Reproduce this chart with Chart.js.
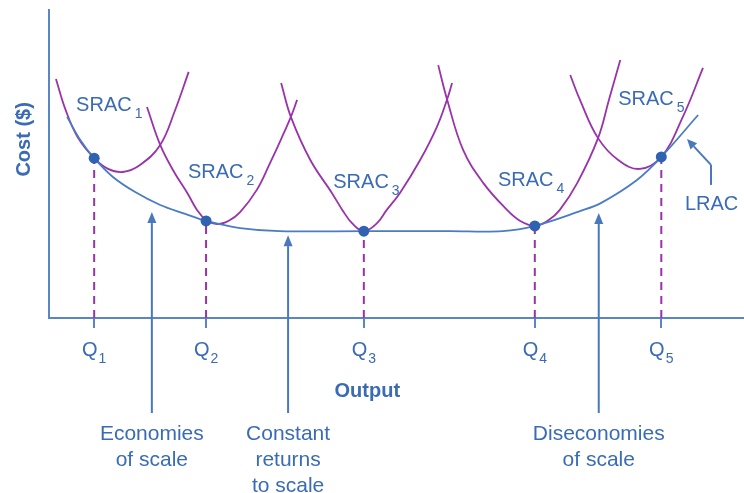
<!DOCTYPE html>
<html><head><meta charset="utf-8">
<script src="https://cdn.jsdelivr.net/npm/chart.js@4.4.1/dist/chart.umd.min.js"></script>
<style>html,body{margin:0;padding:0;background:#fff;}</style>
</head><body>
<canvas id="c" width="744" height="493"></canvas>
<script>
// ---- data (output on x, cost on y; arbitrary units 0-100) ----
const qNames  = ['1', '2', '3', '4', '5'];
const qOutput = [6.5, 22.6, 45.3, 69.9, 88.1];
const qCost   = [51.9, 31.5, 28.2, 29.9, 52.3];

const lracOutput = [2.6, 4.5, 6.5, 9.2, 12.4, 16.0, 19.6, 22.6, 27.5, 33.2, 45.3, 57.7, 65.3, 69.9, 76.4, 79.4, 84.6, 88.1, 93.4];
const lracCost   = [65.3, 57.8, 51.9, 45.8, 40.9, 36.7, 33.8, 31.5, 29.2, 28.2, 28.2, 28.2, 28.2, 29.9, 34.7, 37.3, 44.8, 52.3, 65.9];

const srac1Output = [1.0, 2.4, 4.2, 6.5, 8.5, 10.6, 13.1, 16.0, 18.1, 20.1];
const srac1Cost   = [77.6, 67.5, 58.4, 51.9, 48.4, 47.4, 49.7, 56.2, 67.2, 79.9];
const srac2Output = [14.1, 16.0, 18.0, 19.9, 21.3, 22.6, 24.2, 25.8, 27.5, 29.9, 31.8, 33.4, 34.8, 35.7];
const srac2Cost   = [68.5, 56.2, 47.4, 40.6, 35.1, 31.8, 30.5, 31.5, 34.4, 41.6, 50.3, 58.1, 65.3, 70.8];
const srac3Output = [33.4, 34.8, 37.6, 40.7, 42.2, 43.6, 45.3, 47.2, 48.6, 50.5, 53.4, 55.8, 57.3, 58.0];
const srac3Cost   = [76.3, 65.3, 51.3, 40.6, 35.1, 30.8, 28.2, 30.8, 35.1, 40.6, 51.3, 62.0, 71.1, 76.3];
const srac4Output = [56.0, 57.3, 59.6, 62.5, 65.9, 67.8, 69.9, 71.9, 73.5, 76.0, 79.0, 80.6, 82.2];
const srac4Cost   = [82.1, 70.8, 54.5, 43.8, 35.1, 31.5, 29.9, 31.8, 35.1, 43.8, 58.4, 71.1, 83.8];
const srac5Output = [75.0, 76.4, 79.0, 81.9, 85.0, 88.1, 91.2, 94.1];
const srac5Cost   = [78.9, 70.8, 58.4, 51.3, 48.4, 52.3, 65.3, 81.2];

const noteOutput  = [14.8, 34.4, 79.1];
const noteTipCost = [34.4, 26.9, 34.1];
const noteLines   = [['Economies', 'of scale'], ['Constant', 'returns', 'to scale'], ['Diseconomies', 'of scale']];

// ---- styles / label placement ----
const PURPLE = '#9a32ab';
const LRAC_BLUE = '#4a7cc4';
const AXIS_BLUE = '#5b86c6';
const TEXT_BLUE = '#3a6bb5';
const ARROW_BLUE = '#4a78bf';
const DOT_BLUE = '#2f62b0';
const FAMILY = '"Liberation Sans", Arial, Helvetica, sans-serif';
const font = (size, bold) => (bold ? 'bold ' : '') + size + 'px ' + FAMILY;

const curveLabels = [
  { text: 'SRAC', sub: '1', x: 3.9,  y: 67.2 },
  { text: 'SRAC', sub: '2', x: 20.0, y: 45.5 },
  { text: 'SRAC', sub: '3', x: 40.9, y: 42.2 },
  { text: 'SRAC', sub: '4', x: 64.6, y: 42.9 },
  { text: 'SRAC', sub: '5', x: 81.9, y: 69.2 },
  { text: 'LRAC', sub: '',  x: 91.5, y: 35.1 }
];
const lracPointer = [[95.25, 43.2], [95.25, 49.7], [91.8, 58.1]];

const zip = (xs, ys) => xs.map((v, i) => ({ x: v, y: ys[i] }));
const curve = (xs, ys, color, tension) => ({
  data: zip(xs, ys), showLine: true, borderColor: color, borderWidth: 1.8,
  pointRadius: 0, fill: false, tension: tension
});

const datasets = [
  { data: zip(qOutput, qCost), showLine: false, pointRadius: 5.5, pointBackgroundColor: DOT_BLUE, pointBorderWidth: 0 },
  curve(lracOutput, lracCost, LRAC_BLUE, 0.35),
  curve(srac1Output, srac1Cost, PURPLE, 0.4),
  curve(srac2Output, srac2Cost, PURPLE, 0.4),
  curve(srac3Output, srac3Cost, PURPLE, 0.4),
  curve(srac4Output, srac4Cost, PURPLE, 0.4),
  curve(srac5Output, srac5Cost, PURPLE, 0.4),
  ...qOutput.map((q, i) => ({
    data: [{ x: q, y: 0 }, { x: q, y: qCost[i] }], showLine: true, borderColor: PURPLE,
    borderWidth: 2, borderDash: [8, 6], pointRadius: 0
  }))
];

function arrow(ctx, x1, y1, x2, y2, len, half) {
  const a = Math.atan2(y2 - y1, x2 - x1);
  const bx = x2 - len * Math.cos(a), by = y2 - len * Math.sin(a);
  ctx.beginPath(); ctx.moveTo(x1, y1); ctx.lineTo(bx, by); ctx.stroke();
  ctx.beginPath();
  ctx.moveTo(x2, y2);
  ctx.lineTo(bx + half * Math.sin(a), by - half * Math.cos(a));
  ctx.lineTo(bx - half * Math.sin(a), by + half * Math.cos(a));
  ctx.closePath(); ctx.fill();
}

const annot = {
  id: 'annot',
  afterDraw(chart) {
    const { ctx, chartArea } = chart;
    const X = chart.scales.x, Y = chart.scales.y;
    const base = chartArea.bottom;
    ctx.save();
    ctx.fillStyle = TEXT_BLUE;
    ctx.textBaseline = 'alphabetic';
    ctx.textAlign = 'left';
    qNames.forEach((n, i) => {
      const px = X.getPixelForValue(qOutput[i]);
      ctx.font = font(20); const w1 = ctx.measureText('Q').width;
      ctx.font = font(14); const w2 = ctx.measureText(n).width;
      const left = px - (w1 + 1 + w2) / 2;
      ctx.font = font(20); ctx.fillText('Q', left, base + 38);
      ctx.font = font(14); ctx.fillText(n, left + w1 + 1, base + 45);
    });
    curveLabels.forEach(l => {
      const px = X.getPixelForValue(l.x), py = Y.getPixelForValue(l.y);
      ctx.font = font(20); ctx.fillText(l.text, px, py);
      const w = ctx.measureText(l.text).width;
      if (l.sub) { ctx.font = font(14); ctx.fillText(l.sub, px + w + 3, py + 7); }
    });
    ctx.textAlign = 'center';
    ctx.font = font(20, true);
    ctx.fillText('Output', X.getPixelForValue(45.8), base + 79);
    ctx.save();
    ctx.translate(24, Y.getPixelForValue(58));
    ctx.rotate(-Math.PI / 2);
    ctx.textBaseline = 'middle';
    ctx.fillText('Cost ($)', 0, 0);
    ctx.restore();
    ctx.font = font(21);
    noteOutput.forEach((q, i) => {
      const px = X.getPixelForValue(q);
      ctx.strokeStyle = ARROW_BLUE; ctx.fillStyle = ARROW_BLUE; ctx.lineWidth = 2;
      arrow(ctx, px, base + 95, px, Y.getPixelForValue(noteTipCost[i]), 11, 4.5);
      ctx.fillStyle = TEXT_BLUE;
      noteLines[i].forEach((t, k) => ctx.fillText(t, px, base + 122 + k * 26));
    });
    const p = lracPointer.map(([a, b]) => [X.getPixelForValue(a), Y.getPixelForValue(b)]);
    ctx.strokeStyle = ARROW_BLUE; ctx.fillStyle = ARROW_BLUE; ctx.lineWidth = 2;
    ctx.beginPath(); ctx.moveTo(p[0][0], p[0][1]); ctx.lineTo(p[1][0], p[1][1]); ctx.stroke();
    arrow(ctx, p[1][0], p[1][1], p[2][0], p[2][1], 10, 4.5);
    ctx.restore();
  }
};

new Chart(document.getElementById('c'), {
  type: 'scatter',
  data: { datasets },
  options: {
    responsive: false, animation: false, devicePixelRatio: 1,
    layout: { autoPadding: false, padding: { left: 49, top: 10, right: 0, bottom: 165 } },
    plugins: { legend: { display: false }, tooltip: { enabled: false } },
    scales: {
      x: {
        type: 'linear', min: 0, max: 100,
        afterBuildTicks: s => { s.ticks = qOutput.map(v => ({ value: v })); },
        afterFit: s => { s.height = 10; },
        ticks: { display: false },
        grid: { display: true, drawOnChartArea: false, drawTicks: true, tickLength: 10, color: AXIS_BLUE, lineWidth: 2 },
        border: { display: true, color: AXIS_BLUE, width: 2 }
      },
      y: {
        type: 'linear', min: 0, max: 100,
        afterFit: s => { s.width = 0; },
        ticks: { display: false },
        grid: { display: false, drawTicks: false },
        border: { display: true, color: AXIS_BLUE, width: 2 }
      }
    }
  },
  plugins: [annot]
});
</script>
</body></html>
